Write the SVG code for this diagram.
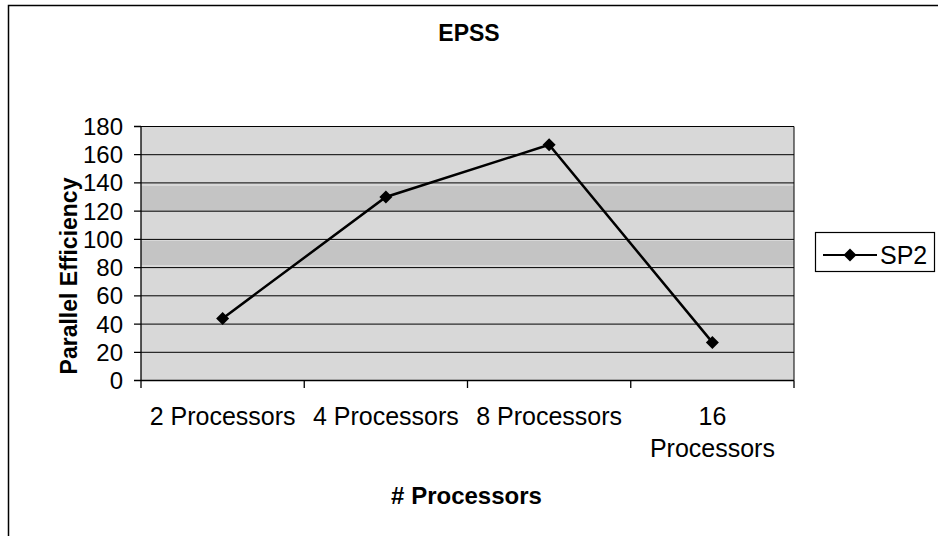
<svg xmlns="http://www.w3.org/2000/svg" width="938" height="536" viewBox="0 0 938 536">
  <style>
    text { font-family: "Liberation Sans", Arial, sans-serif; fill: #000; }
    .title { font-size: 23px; font-weight: bold; text-anchor: middle; }
    .axt { font-size: 23px; font-weight: bold; text-anchor: middle; }
    .ylab { font-size: 24px; text-anchor: end; }
    .xlab { font-size: 25px; text-anchor: middle; }
    .leg { font-size: 25px; }
    .grid { stroke: #000; stroke-width: 1; }
    .axis { stroke: #000; stroke-width: 1.3; fill: none; }
    .series { stroke: #000; stroke-width: 2.5; fill: none; }
  </style>
  <defs>
    <path id="diamond" d="M0,-6.5 L6.5,0 L0,6.5 L-6.5,0 Z" fill="#000"/>
  </defs>

  <rect x="0" y="0" width="938" height="536" fill="#fff"/>
  <!-- chart frame -->
  <path d="M8.5,536 V5.5 H938" fill="none" stroke="#000" stroke-width="1.5"/>

  <g id="title">
    <text class="title" x="469" y="41">EPSS</text>
  </g>

  <!-- plot area -->
  <g id="plot-area">
    <rect x="141" y="126.5" width="653" height="254" fill="#d8d8d8"/>
    <rect x="141" y="186" width="653" height="25" fill="#b8b8b8" opacity="0.6"/>
    <rect x="141" y="241" width="653" height="24" fill="#b8b8b8" opacity="0.6"/>
    <g class="grid">
      <line x1="141" y1="126.5" x2="794" y2="126.5"/>
      <line x1="141" y1="154.7" x2="794" y2="154.7"/>
      <line x1="141" y1="182.9" x2="794" y2="182.9"/>
      <line x1="141" y1="211.2" x2="794" y2="211.2"/>
      <line x1="141" y1="239.4" x2="794" y2="239.4"/>
      <line x1="141" y1="267.6" x2="794" y2="267.6"/>
      <line x1="141" y1="295.8" x2="794" y2="295.8"/>
      <line x1="141" y1="324.1" x2="794" y2="324.1"/>
      <line x1="141" y1="352.3" x2="794" y2="352.3"/>
      <line x1="794" y1="126.5" x2="794" y2="380.5"/>
    </g>
  </g>

  <g id="y-axis">
    <path class="axis" d="M141,126.5 V380.5 M134,126.5 H141 M134,154.7 H141 M134,182.9 H141 M134,211.2 H141 M134,239.4 H141 M134,267.6 H141 M134,295.8 H141 M134,324.1 H141 M134,352.3 H141 M134,380.5 H141"/>
    <text class="ylab" x="123" y="135">180</text>
    <text class="ylab" x="123" y="163.2">160</text>
    <text class="ylab" x="123" y="191.4">140</text>
    <text class="ylab" x="123" y="219.7">120</text>
    <text class="ylab" x="123" y="247.9">100</text>
    <text class="ylab" x="123" y="276.1">80</text>
    <text class="ylab" x="123" y="304.3">60</text>
    <text class="ylab" x="123" y="332.6">40</text>
    <text class="ylab" x="123" y="360.8">20</text>
    <text class="ylab" x="123" y="389">0</text>
    <text class="axt" transform="translate(77,276) rotate(-90)">Parallel Efficiency</text>
  </g>

  <g id="x-axis">
    <path class="axis" d="M141,380.5 H794 M141,380.5 V388 M304.25,380.5 V388 M467.5,380.5 V388 M630.75,380.5 V388 M794,380.5 V388"/>
    <text class="xlab" x="222.6" y="425">2 Processors</text>
    <text class="xlab" x="385.9" y="425">4 Processors</text>
    <text class="xlab" x="549.1" y="425">8 Processors</text>
    <text class="xlab" x="712.4" y="425">16</text>
    <text class="xlab" x="712.4" y="457">Processors</text>
    <text class="axt" x="466.5" y="504" style="font-size:24px">#  Processors</text>
  </g>

  <g id="connectors">
    <polyline class="series" points="222.6,318.4 385.9,197 549.1,144.8 712.4,342.4"/>
  </g>

  <g id="series-sp2">
    <use href="#diamond" x="222.6" y="318.4"/>
    <use href="#diamond" x="385.9" y="197"/>
    <use href="#diamond" x="549.1" y="144.8"/>
    <use href="#diamond" x="712.4" y="342.4"/>
  </g>

  <g id="legend">
    <rect x="815.5" y="232.5" width="119" height="39" fill="#fff" stroke="#000" stroke-width="1.2"/>
    <line x1="823" y1="255" x2="877" y2="255" stroke="#000" stroke-width="2"/>
    <use href="#diamond" x="850" y="255"/>
    <text class="leg" x="880" y="264">SP2</text>
  </g>
</svg>
